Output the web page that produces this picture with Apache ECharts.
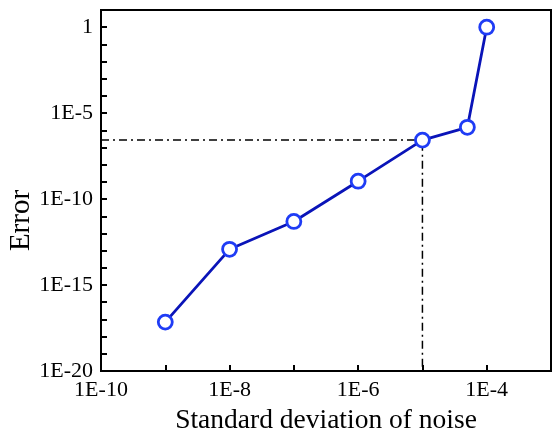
<!DOCTYPE html>
<html>
<head>
<meta charset="utf-8">
<script src="https://cdn.jsdelivr.net/npm/echarts@6/dist/echarts.min.js"></script>
<style>
  html, body { margin: 0; padding: 0; background: #fff; }
  #chart { width: 556px; height: 433px; }
</style>
</head>
<body>
<div id="chart"></div>
<script>
// noise level vs. error
var noiseStd = [1e-9, 1e-8, 1e-7, 1e-6, 1e-5, 5e-5, 1e-4];
var errorVals = [7e-18, 1.2e-13, 5e-12, 1.1e-9, 2.7e-7, 1.5e-6, 1];
// dash-dot guide lines through the 1E-5 point
var guideX = [1e-10, 1e-5, 1e-5];
var guideY = [2.7e-7, 2.7e-7, 1e-20];

var serif = "'Liberation Serif', 'Times New Roman', serif";

function pairs(xs, ys) {
    var out = [];
    for (var i = 0; i < xs.length; i++) {
        out.push([xs[i], ys[i]]);
    }
    return out;
}

function expOf(v) {
    return Math.round(Math.log(v) / Math.LN10);
}

var chart = echarts.init(document.getElementById('chart'), null, {renderer: 'canvas'});

var option = {
    backgroundColor: '#fff',
    animation: false,
    grid: {
        left: 101,
        right: 5,
        top: 10,
        bottom: 62,
        containLabel: false,
        outerBoundsMode: 'none',
        show: true,
        borderColor: '#000',
        borderWidth: 2
    },
    xAxis: {
        type: 'log',
        logBase: 10,
        min: 1e-10,
        max: 1e-3,
        interval: 1,
        name: 'Standard deviation of noise',
        nameLocation: 'middle',
        nameGap: 36,
        nameTextStyle: {fontFamily: serif, fontSize: 27.5, color: '#000'},
        axisLine: {lineStyle: {color: '#000', width: 2}},
        axisTick: {inside: true, length: 6, lineStyle: {color: '#000', width: 2}},
        splitLine: {show: false},
        axisLabel: {
            fontFamily: serif,
            fontSize: 22,
            color: '#000',
            margin: 8,
            showMaxLabel: true,
            formatter: function (v) {
                var e = expOf(v);
                if (e % 2 !== 0 || e > -4) return '';
                return '1E' + e;
            }
        }
    },
    yAxis: {
        type: 'log',
        logBase: 10,
        min: 1e-20,
        max: 10,
        interval: 1,
        name: 'Error',
        nameLocation: 'middle',
        nameGap: 65,
        nameMoveOverlap: false,
        nameTextStyle: {fontFamily: serif, fontSize: 29, color: '#000', padding: [0, 60, 0, 0]},
        axisLine: {lineStyle: {color: '#000', width: 2}},
        axisTick: {inside: true, length: 6, lineStyle: {color: '#000', width: 2}},
        splitLine: {show: false},
        axisLabel: {
            fontFamily: serif,
            fontSize: 22,
            color: '#000',
            margin: 8,
            formatter: function (v) {
                var e = expOf(v);
                if (e % 5 !== 0) return '';
                return e === 0 ? '1' : '1E' + e;
            }
        }
    },
    series: [
        {
            type: 'line',
            data: pairs(guideX, guideY),
            symbol: 'none',
            silent: true,
            lineStyle: {color: '#000', width: 1.5, type: [8, 4, 2, 4]},
            z: 1
        },
        {
            type: 'line',
            data: pairs(noiseStd, errorVals),
            symbol: 'circle',
            symbolSize: 14,
            lineStyle: {color: '#0a14b8', width: 2.8},
            itemStyle: {color: '#fff', borderColor: '#1f3cf5', borderWidth: 2.8},
            z: 3
        }
    ]
};

chart.setOption(option);
</script>
</body>
</html>
